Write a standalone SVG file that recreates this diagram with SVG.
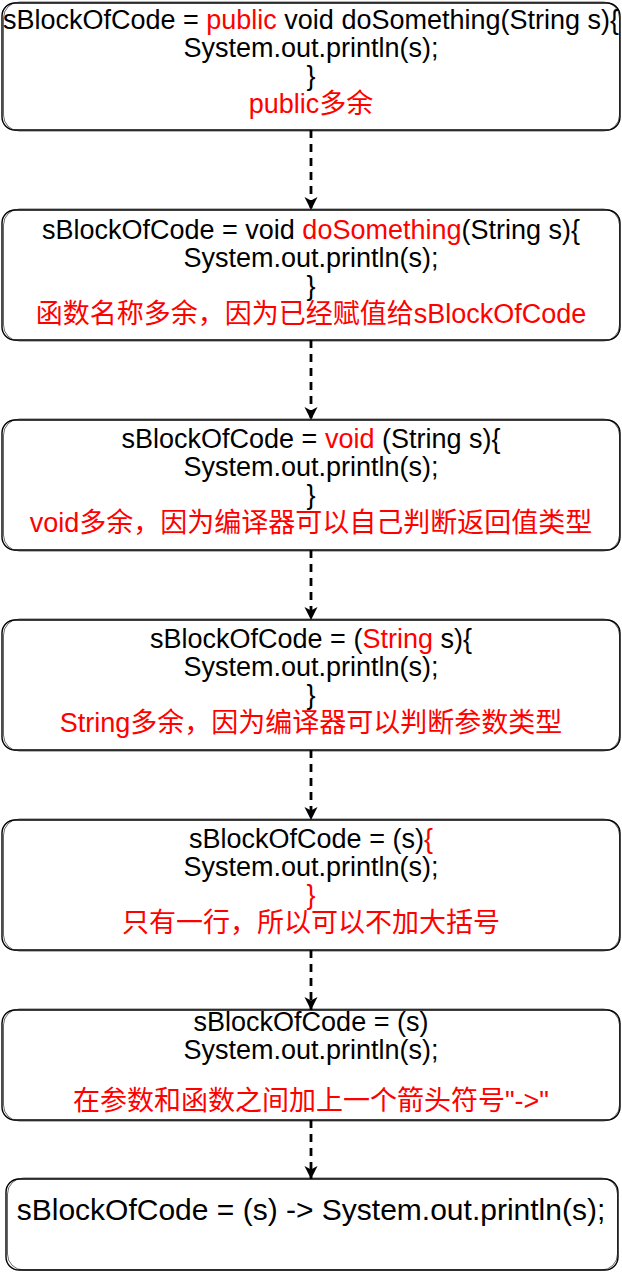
<svg xmlns="http://www.w3.org/2000/svg" width="622" height="1272" viewBox="0 0 622 1272">
<defs>
<style>
.box{fill:#fff;stroke:#000;stroke-width:1.4}
.sk{fill:none;stroke:#000;stroke-width:0.9;stroke-opacity:0.65}
text{font-family:"Liberation Sans","Noto Sans CJK SC",Arial,sans-serif;font-size:27px;fill:#000;text-anchor:middle}
.r{fill:#ff0000}
.edge{fill:none;stroke:#000;stroke-width:2.8;stroke-dasharray:8 6}
</style>
<marker id="arr" markerUnits="userSpaceOnUse" markerWidth="16" markerHeight="16" viewBox="-14 -8 16 16" refX="0" refY="0" orient="auto">
<path d="M0,0 L-13,-6.5 L-9.5,0 L-13,6.5 Z" fill="#000"/>
</marker>
</defs>
<rect width="622" height="1272" fill="#fff"/>
<g id="connectors">
<line class="edge" x1="311" y1="130" x2="311" y2="210" marker-end="url(#arr)"/>
<line class="edge" x1="311" y1="340" x2="311" y2="420" marker-end="url(#arr)"/>
<line class="edge" x1="311" y1="550" x2="311" y2="620" marker-end="url(#arr)"/>
<line class="edge" x1="311" y1="750" x2="311" y2="820" marker-end="url(#arr)"/>
<line class="edge" x1="311" y1="950" x2="311" y2="1010" marker-end="url(#arr)"/>
<line class="edge" x1="311" y1="1120" x2="311" y2="1179" marker-end="url(#arr)"/>
</g>
<g id="node1">
<rect class="box" x="2" y="3" width="618" height="127" rx="13"/>
<rect class="sk" x="3.5" y="2" width="616" height="129" rx="16"/>
<text x="311" y="29">sBlockOfCode = <tspan class="r">public</tspan> void doSomething(String s){</text>
<text x="311" y="57">System.out.println(s);</text>
<text x="311" y="85">}</text>
<text x="311" y="113" class="r">public多余</text>
</g>
<g id="node2">
<rect class="box" x="2" y="210" width="618" height="130" rx="13"/>
<rect class="sk" x="3.5" y="209" width="616" height="132" rx="16"/>
<text x="311" y="239">sBlockOfCode = void <tspan class="r">doSomething</tspan>(String s){</text>
<text x="311" y="267">System.out.println(s);</text>
<text x="311" y="295">}</text>
<text x="311" y="323" class="r">函数名称多余，因为已经赋值给sBlockOfCode</text>
</g>
<g id="node3">
<rect class="box" x="2" y="420" width="618" height="130" rx="13"/>
<rect class="sk" x="3.5" y="419" width="616" height="132" rx="16"/>
<text x="311" y="448">sBlockOfCode = <tspan class="r">void</tspan> (String s){</text>
<text x="311" y="476">System.out.println(s);</text>
<text x="311" y="504">}</text>
<text x="311" y="532" class="r">void多余，因为编译器可以自己判断返回值类型</text>
</g>
<g id="node4">
<rect class="box" x="2" y="620" width="618" height="130" rx="13"/>
<rect class="sk" x="3.5" y="619" width="616" height="132" rx="16"/>
<text x="311" y="648">sBlockOfCode = (<tspan class="r">String</tspan> s){</text>
<text x="311" y="676">System.out.println(s);</text>
<text x="311" y="704">}</text>
<text x="311" y="732" class="r">String多余，因为编译器可以判断参数类型</text>
</g>
<g id="node5">
<rect class="box" x="2" y="820" width="618" height="130" rx="13"/>
<rect class="sk" x="3.5" y="819" width="616" height="132" rx="16"/>
<text x="311" y="848">sBlockOfCode = (s)<tspan class="r">{</tspan></text>
<text x="311" y="876">System.out.println(s);</text>
<text x="311" y="904" class="r">}</text>
<text x="311" y="932" class="r">只有一行，所以可以不加大括号</text>
</g>
<g id="node6">
<rect class="box" x="2" y="1010" width="618" height="110" rx="13"/>
<rect class="sk" x="3.5" y="1009" width="616" height="112" rx="16"/>
<text x="311" y="1031">sBlockOfCode = (s)</text>
<text x="311" y="1059">System.out.println(s);</text>
<text x="311" y="1110" class="r">在参数和函数之间加上一个箭头符号"-&gt;"</text>
</g>
<g id="node7">
<rect class="box" x="6" y="1179" width="612" height="91" rx="13"/>
<rect class="sk" x="7.5" y="1178" width="610" height="92" rx="16"/>
<text x="311" y="1220" style="font-size:30px">sBlockOfCode = (s) -&gt; System.out.println(s);</text>
</g>
</svg>
